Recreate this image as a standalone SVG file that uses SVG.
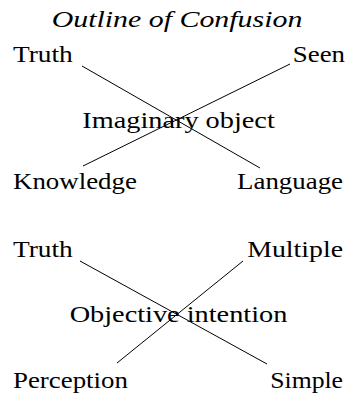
<svg xmlns="http://www.w3.org/2000/svg" width="356" height="394" viewBox="0 0 356 394">
<style>
.c line{stroke:#000;stroke-width:1}
text{font-family:'Liberation Serif',serif;font-size:24px;fill:#000}
.t{font-style:italic;font-size:23px}
.m{text-anchor:middle}
.e{text-anchor:end}
</style>
<rect width="356" height="394" fill="#fff"/>
<g id="connectors" class="c">
<line x1="82" y1="66" x2="260" y2="168"/>
<line x1="290" y1="64" x2="83" y2="166"/>
<line x1="80" y1="261" x2="267" y2="364"/>
<line x1="243" y1="261" x2="117" y2="363"/>
</g>
<g id="title"><text class="t m" transform="translate(177,27) scale(1.3,1)">Outline of Confusion</text></g>
<g id="truth1"><text transform="translate(13,62) scale(1.14,1)">Truth</text></g>
<g id="seen"><text class="e" transform="translate(345,62) scale(1.12,1)">Seen</text></g>
<g id="imaginary"><text class="m" transform="translate(178.5,128) scale(1.18,1)">Imaginary object</text></g>
<g id="knowledge"><text transform="translate(13,189) scale(1.12,1)">Knowledge</text></g>
<g id="language"><text class="e" transform="translate(343,189) scale(1.12,1)">Language</text></g>
<g id="truth2"><text transform="translate(13,257) scale(1.14,1)">Truth</text></g>
<g id="multiple"><text class="e" transform="translate(343,257) scale(1.16,1)">Multiple</text></g>
<g id="objective"><text class="m" transform="translate(178.5,322) scale(1.18,1)">Objective intention</text></g>
<g id="perception"><text transform="translate(13,388) scale(1.12,1)">Perception</text></g>
<g id="simple"><text class="e" transform="translate(343,388) scale(1.07,1)">Simple</text></g>
</svg>
